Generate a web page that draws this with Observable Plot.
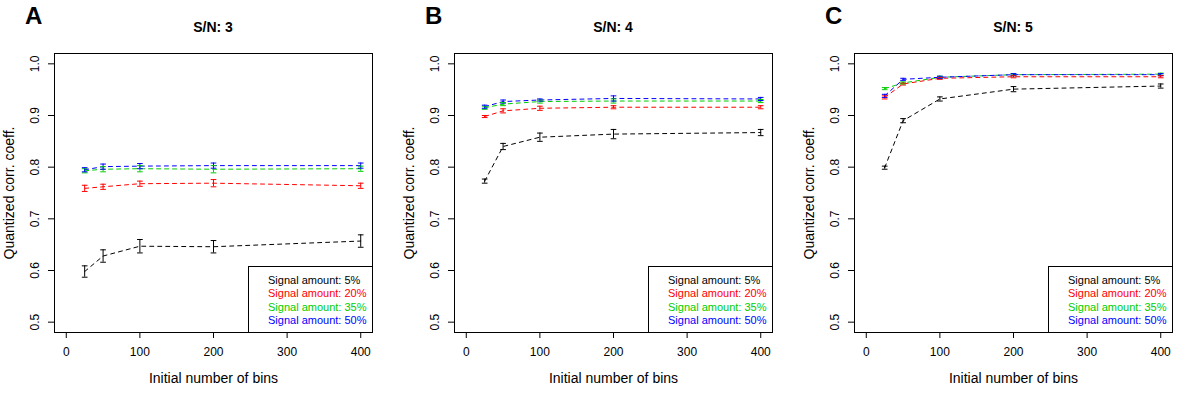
<!DOCTYPE html>
<html>
<head>
<meta charset="utf-8">
<script src="https://cdn.jsdelivr.net/npm/d3@7"></script>
<script src="https://cdn.jsdelivr.net/npm/@observablehq/plot@0.6"></script>
<style>
  body { margin: 0; background: #fff; font-family: "Liberation Sans", Arial, Helvetica, sans-serif; }
  #row { display: flex; width: 1200px; height: 400px; }
  .panel { position: relative; width: 400px; height: 400px; }
  .letter { position: absolute; left: 25px; top: 3.7px; font-size: 24px; font-weight: bold; line-height: 1; }
  .title { position: absolute; left: 54px; width: 318px; top: 20px; text-align: center; font-size: 14px; font-weight: bold; line-height: 1; }
  .legend { position: absolute; left: 248px; top: 266px; width: 123px; height: 65px; border: 1px solid #000; background: #fff; box-sizing: content-box; }
  .legend div { position: absolute; left: 19px; font-size: 11px; line-height: 1; white-space: nowrap; }
  svg { position: absolute; left: 0; top: 0; }
</style>
</head>
<body>
<div id="row"></div>
<script>
// ---- data ----
const bins = [25, 50, 100, 200, 400];
const panelLetters = ["A", "B", "C"];
const panelTitles = ["S/N: 3", "S/N: 4", "S/N: 5"];
const seriesNames = ["Signal amount: 5%", "Signal amount: 20%", "Signal amount: 35%", "Signal amount: 50%"];
const seriesColors = ["#000000", "#FF0000", "#00CD00", "#0000FF"];

// S/N 3
const sn3_5  = [0.598, 0.628, 0.647, 0.646, 0.657];
const sn3_5e = [0.011, 0.012, 0.013, 0.012, 0.012];
const sn3_20  = [0.759, 0.762, 0.768, 0.769, 0.764];
const sn3_20e = [0.006, 0.005, 0.005, 0.007, 0.005];
const sn3_35  = [0.793, 0.796, 0.797, 0.796, 0.797];
const sn3_35e = [0.004, 0.005, 0.006, 0.007, 0.005];
const sn3_50  = [0.795, 0.801, 0.802, 0.803, 0.803];
const sn3_50e = [0.004, 0.005, 0.005, 0.005, 0.005];

// S/N 4
const sn4_5  = [0.773, 0.840, 0.858, 0.864, 0.867];
const sn4_5e = [0.004, 0.006, 0.008, 0.009, 0.006];
const sn4_20  = [0.898, 0.909, 0.914, 0.916, 0.916];
const sn4_20e = [0.002, 0.004, 0.004, 0.003, 0.003];
const sn4_35  = [0.915, 0.922, 0.927, 0.928, 0.928];
const sn4_35e = [0.003, 0.003, 0.003, 0.004, 0.003];
const sn4_50  = [0.917, 0.927, 0.930, 0.933, 0.932];
const sn4_50e = [0.003, 0.003, 0.002, 0.005, 0.003];

// S/N 5
const sn5_5  = [0.799, 0.890, 0.932, 0.951, 0.957];
const sn5_5e = [0.003, 0.004, 0.004, 0.005, 0.004];
const sn5_20  = [0.935, 0.961, 0.972, 0.975, 0.975];
const sn5_20e = [0.003, 0.002, 0.002, 0.002, 0.002];
const sn5_35  = [0.952, 0.963, 0.974, 0.979, 0.980];
const sn5_35e = [0.002, 0.002, 0.002, 0.002, 0.002];
const sn5_50  = [0.938, 0.970, 0.974, 0.979, 0.979];
const sn5_50e = [0.003, 0.002, 0.002, 0.002, 0.002];

const xTicks = [0, 100, 200, 300, 400];
const yTicks = [0.5, 0.6, 0.7, 0.8, 0.9, 1.0];
const xLabel = "Initial number of bins";
const yLabel = "Quantized corr. coeff.";

const panels = [
  [[sn3_5, sn3_5e], [sn3_20, sn3_20e], [sn3_35, sn3_35e], [sn3_50, sn3_50e]],
  [[sn4_5, sn4_5e], [sn4_20, sn4_20e], [sn4_35, sn4_35e], [sn4_50, sn4_50e]],
  [[sn5_5, sn5_5e], [sn5_20, sn5_20e], [sn5_35, sn5_35e], [sn5_50, sn5_50e]]
];

// horizontal cap symbol for error bars
const capSymbol = {
  draw(ctx, size) { const w = Math.sqrt(size) / 2; ctx.moveTo(-w, 0); ctx.lineTo(w, 0); }
};

const row = document.getElementById("row");
panels.forEach((series, pi) => {
  const rows = [];
  series.forEach(([vals, errs], si) => {
    bins.forEach((b, i) => rows.push({bin: b, v: vals[i], lo: vals[i] - errs[i], hi: vals[i] + errs[i], s: seriesNames[si]}));
  });
  const colorScale = {domain: seriesNames, range: seriesColors};
  const chart = Plot.plot({
    width: 400, height: 400,
    marginLeft: 54, marginRight: 28, marginTop: 53, marginBottom: 68,
    style: {fontFamily: "Liberation Sans, Arial, Helvetica, sans-serif", background: "transparent"},
    x: {domain: [-16, 416]},
    y: {domain: [0.48, 1.02]},
    color: colorScale,
    marks: [
      Plot.line(rows, {x: "bin", y: "v", z: "s", stroke: "s", strokeWidth: 1, strokeDasharray: "4,4"}),
      Plot.ruleX(rows, {x: "bin", y1: "lo", y2: "hi", stroke: "s", strokeWidth: 1}),
      Plot.dot(rows, {x: "bin", y: "lo", symbol: capSymbol, r: 3.2, stroke: "s", fill: "none", strokeWidth: 1}),
      Plot.dot(rows, {x: "bin", y: "hi", symbol: capSymbol, r: 3.2, stroke: "s", fill: "none", strokeWidth: 1}),
      Plot.axisX({ticks: xTicks, tickSize: 6, tickPadding: 9, fontSize: 12, label: null, tickFormat: d3.format("d")}),
      Plot.text([xLabel], {frameAnchor: "bottom", dy: 46, lineAnchor: "middle", textAnchor: "middle", fontSize: 14, fill: "black"}),
      Plot.axisY({ticks: yTicks, tickSize: 6, tickFormat: () => "", label: null}),
      Plot.text(yTicks, {y: d => d, text: d3.format(".1f"), frameAnchor: "left", dx: -15.5, rotate: -90, textAnchor: "middle", lineAnchor: "bottom", fontSize: 12, fill: "black"}),
      Plot.text([yLabel], {frameAnchor: "left", dx: -41, rotate: -90, textAnchor: "middle", lineAnchor: "bottom", fontSize: 14, fill: "black"}),
      Plot.frame({stroke: "black", strokeWidth: 1})
    ]
  });
  const panel = document.createElement("div");
  panel.className = "panel";
  panel.appendChild(chart);
  const letter = document.createElement("div");
  letter.className = "letter"; letter.textContent = panelLetters[pi];
  panel.appendChild(letter);
  const title = document.createElement("div");
  title.className = "title"; title.textContent = panelTitles[pi];
  panel.appendChild(title);
  const legend = document.createElement("div");
  legend.className = "legend";
  seriesNames.forEach((n, si) => {
    const t = document.createElement("div");
    t.textContent = n; t.style.color = seriesColors[si];
    t.style.top = (8 + si * 13.3) + "px";
    legend.appendChild(t);
  });
  panel.appendChild(legend);
  row.appendChild(panel);
});
</script>
</body>
</html>
